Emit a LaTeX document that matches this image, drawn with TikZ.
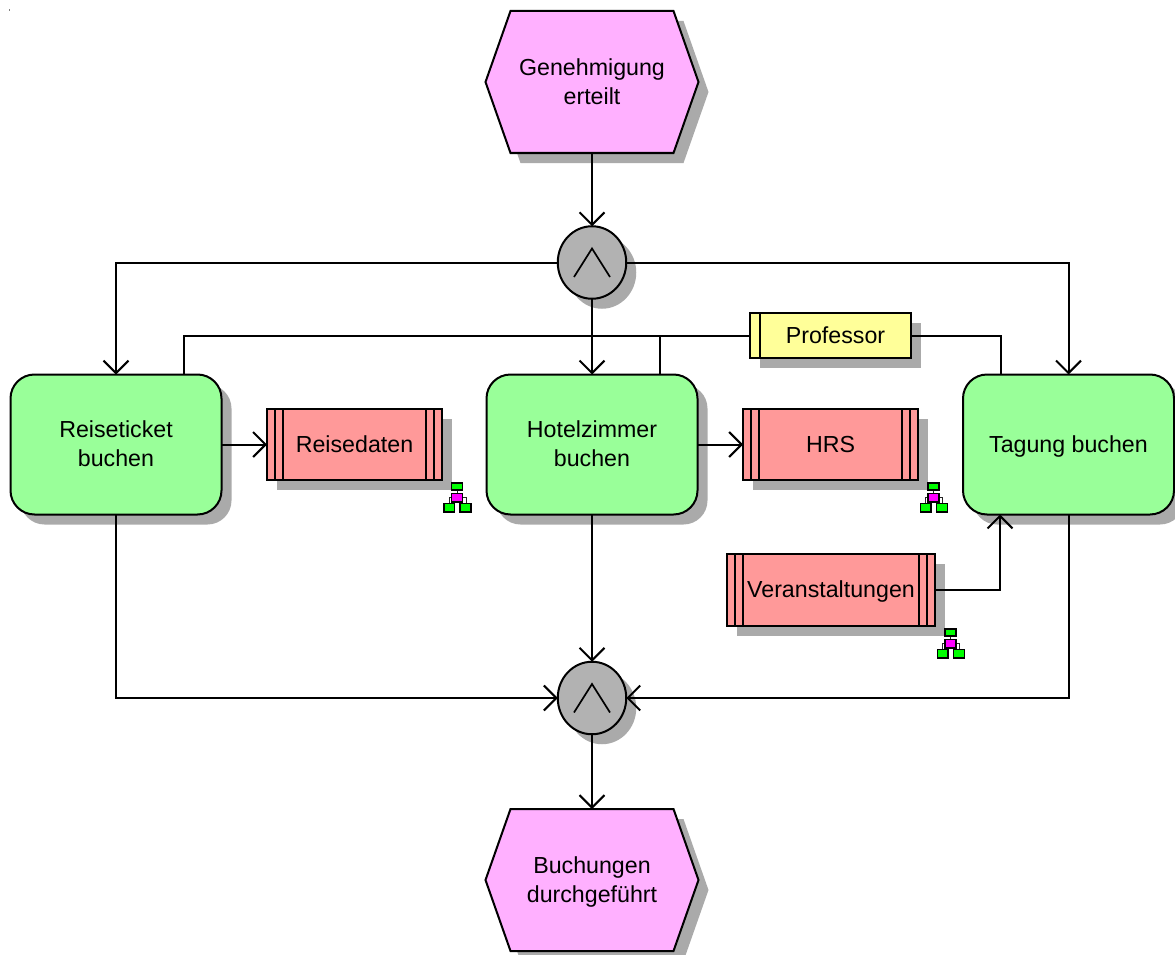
\documentclass[tikz,border=0pt]{standalone}
\usepackage{fontspec}
\setmainfont{Liberation Sans}
\usetikzlibrary{shapes.symbols,shapes.geometric,shadows,arrows.meta,calc}
\definecolor{evt}{HTML}{FFB0FF}
\definecolor{fun}{HTML}{99FF99}
\definecolor{sys}{HTML}{FF9999}
\definecolor{org}{HTML}{FFFF99}
\definecolor{opr}{HTML}{B2B2B2}
\definecolor{shd}{HTML}{AAAAAA}
\definecolor{hgreen}{HTML}{00FF00}
\definecolor{hmag}{HTML}{FF00FF}
\tikzset{
  x=1pt,y=-1pt,
  base/.style={draw=black,line width=2pt,inner sep=0pt,outer sep=0pt,align=center,
    font=\fontsize{23.2}{29}\selectfont,text=black},
  sh/.style={copy shadow={shadow xshift=10pt,shadow yshift=-10pt,fill=shd,draw=none}},
  event/.style={base,sh,fill=evt,signal,signal to=west and east,signal from=nowhere,
    signal pointer angle=141.2,minimum width=213pt,minimum height=142pt},
  func/.style={base,sh,fill=fun,rectangle,rounded corners=24pt,minimum width=211pt,minimum height=140pt},
  appl/.style={base,sh,fill=sys,rectangle,minimum height=71.5pt},
  role/.style={base,sh,fill=org,rectangle,minimum width=161pt,minimum height=44.5pt},
  oper/.style={base,sh,fill=opr,ellipse,minimum width=68.5pt,minimum height=72.5pt},
  flow/.style={line width=2pt,draw=black,-{Straight Barb[length=12.5pt,width=25pt]}},
  link/.style={line width=2pt,draw=black},
  inner/.style={line width=1.8pt,draw=black},
  hbox/.style={draw=black,line width=1.2pt},
  pics/hier/.style={code={
    \draw[line width=1pt,draw=black!85] (0,7) -- (0,11) (-6,14) -| (-8,20) (6,14) -| (9,20);
    \filldraw[hbox,fill=hgreen] (-5.5,0) rectangle (5.5,7);
    \filldraw[hbox,fill=hmag] (-5.5,10.5) rectangle (5.5,19);
    \filldraw[hbox,fill=hgreen] (-13,20.5) rectangle (-2.5,29);
    \filldraw[hbox,fill=hgreen] (3,20.5) rectangle (14,29);
  }}
}
\begin{document}
\begin{tikzpicture}
\useasboundingbox (0,0) rectangle (1175,955);
\fill[gray] (9,9.2) rectangle (10.2,10.8);
% events
\node[event] (ev1) at (592,82) {Genehmigung\\erteilt};
\node[event] (ev2) at (592,880) {\raisebox{0pt}[21pt][\depth]{Buchungen}\\durchgeführt};
% operators
\node[oper] (op1) at (592,262.5) {};
\node[oper] (op2) at (592,698) {};
\foreach \o in {op1,op2}
  \draw[line width=1.7pt,line join=miter] ([shift={(-18,14.5)}]\o.center) -- ([shift={(0,-14)}]\o.center) -- ([shift={(18,14.5)}]\o.center);
% functions
\node[func] (f1) at (116,444.5) {\raisebox{1pt}{Reiseticket}\\\raisebox{1pt}{buchen}};
\node[func] (f2) at (592,444.5) {\raisebox{1pt}{Hotelzimmer}\\\raisebox{1pt}{buchen}};
\node[func] (f3) at (1068.5,444.5) {\raisebox{0pt}[20pt][4.3pt]{Tagung buchen}};
% applications
\node[appl,minimum width=175pt] (a1) at (354.5,444.5) {Reisedaten};
\node[appl,minimum width=175pt] (a2) at (830.5,444.5) {HRS};
\node[appl,minimum width=208pt] (a3) at (831,590) {\raisebox{0pt}[20pt][4.3pt]{Veranstaltungen}};
\foreach \n in {a1,a2,a3}{
  \draw[inner] ([xshift=8pt]\n.north west) -- ([xshift=8pt]\n.south west);
  \draw[inner] ([xshift=16pt]\n.north west) -- ([xshift=16pt]\n.south west);
  \draw[inner] ([xshift=-8pt]\n.north east) -- ([xshift=-8pt]\n.south east);
  \draw[inner] ([xshift=-16pt]\n.north east) -- ([xshift=-16pt]\n.south east);
}
% role
\node[role] (r1) at (830.5,335.5) {\hspace*{10pt}Professor};
\draw[inner] ([xshift=10pt]r1.north west) -- ([xshift=10pt]r1.south west);
% hierarchy icons
\pic at (457,483) {hier};
\pic at (933.5,483) {hier};
\pic at (950.5,629) {hier};
% named free ends
\coordinate (j1) at (184,374.5);
\coordinate (j2) at (660,374.5);
\coordinate (j3) at (1001,374.5);
\coordinate (j4) at (1000,514.5);
% connectors
\draw[flow] (ev1.south) -- (op1.north);
\draw[flow] (op1.west) -| (f1.north);
\draw[flow] (op1.east) -| (f3.north);
\draw[flow] (op1.south) -- (f2.north);
\draw[link] (r1.west) -| (j1);
\draw[link] (r1.west) -| (j2);
\draw[link] (r1.east) -| (j3);
\draw[flow] (f1.east) -- (a1.west);
\draw[flow] (f2.east) -- (a2.west);
\draw[flow] (a3.east) -| (j4);
\draw[flow] (f1.south) |- (op2.west);
\draw[flow] (f2.south) -- (op2.north);
\draw[flow] (f3.south) |- (op2.east);
\draw[flow] (op2.south) -- (ev2.north);
\end{tikzpicture}
\end{document}
